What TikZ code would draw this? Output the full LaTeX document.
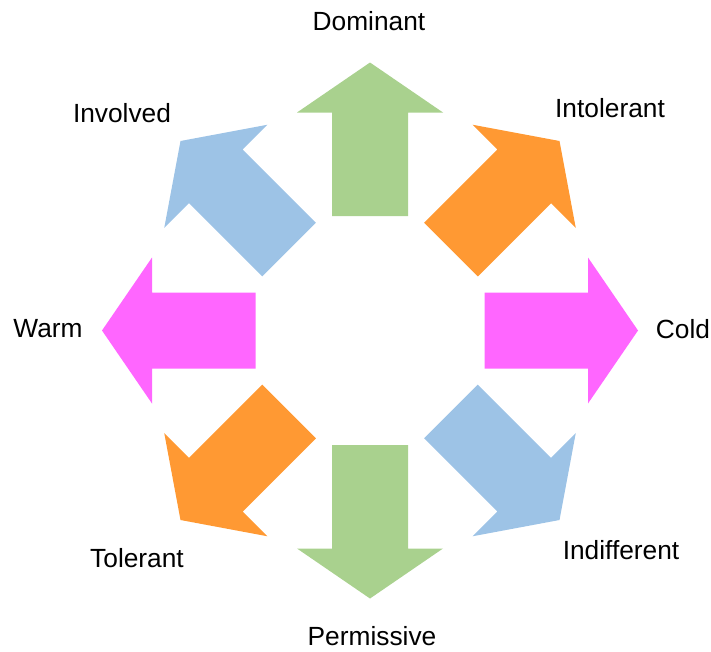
\documentclass[tikz,border=0pt]{standalone}
\usepackage{fontspec}
\setmainfont{Liberation Sans}
\definecolor{arrgreen}{HTML}{A9D18E}
\definecolor{arrorange}{HTML}{FF9933}
\definecolor{arrblue}{HTML}{9DC3E6}
\definecolor{arrmagenta}{HTML}{FF66FF}
\tikzset{
  blockarrow/.style={fill=#1, draw=none},
  trait/.style={anchor=base, inner sep=0pt, font=\fontsize{26.3}{30}\selectfont},
}
\begin{document}
\begin{tikzpicture}[x=1pt, y=-1pt]
  \useasboundingbox (0,0) rectangle (711,651);
  \coordinate (hub) at (370,330.5);
  % eight block arrows pointing outward from the hub
  \foreach \ang/\col in {0/arrmagenta, 45/arrorange, 90/arrgreen, 135/arrblue,
                         180/arrmagenta, 225/arrorange, 270/arrgreen, 315/arrblue} {
    \begin{scope}[shift={(hub)}, rotate=\ang]
      \fill[blockarrow=\col] (114.5,-38) -- (218,-38) -- (218,-73) -- (268,0)
        -- (218,73) -- (218,38) -- (114.5,38) -- cycle;
    \end{scope}
  }
  % trait labels
  \node[trait] (dominant)    at (369,30)  {Dominant};
  \node[trait] (intolerant)  at (610,117) {Intolerant};
  \node[trait] (cold)        at (683,338) {Cold};
  \node[trait] (indifferent) at (621,559) {Indifferent};
  \node[trait] (permissive)  at (372,645.5) {Permissive};
  \node[trait] (tolerant)    at (137,567) {Tolerant};
  \node[trait] (warm)        at (48,337)  {Warm};
  \node[trait] (involved)    at (122,122) {Involved};
\end{tikzpicture}
\end{document}
